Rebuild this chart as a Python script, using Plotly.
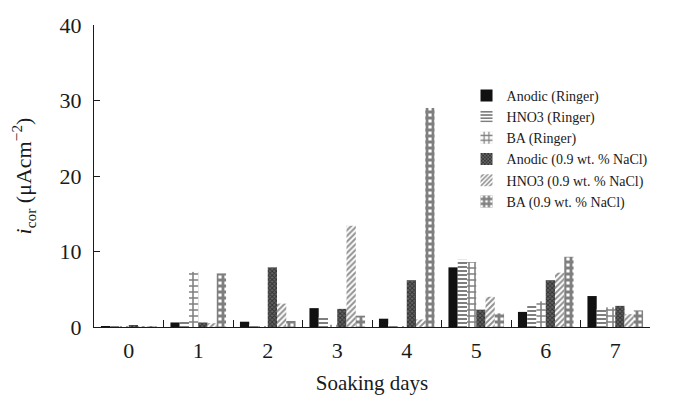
import plotly.graph_objects as go

days = ["0", "1", "2", "3", "4", "5", "6", "7"]
series_names = [
    "Anodic (Ringer)",
    "HNO3 (Ringer)",
    "BA (Ringer)",
    "Anodic (0.9 wt. % NaCl)",
    "HNO3 (0.9 wt. % NaCl)",
    "BA (0.9 wt. % NaCl)",
]
anodic_ringer = [0.1, 0.6, 0.7, 2.5, 1.1, 7.9, 2.0, 4.1]
hno3_ringer = [0.1, 0.8, 0.3, 1.3, 0.4, 8.9, 2.8, 2.4]
ba_ringer = [0.1, 7.3, 0.1, 0.3, 0.1, 8.6, 3.4, 2.6]
anodic_nacl = [0.2, 0.6, 7.9, 2.4, 6.2, 2.3, 6.2, 2.8]
hno3_nacl = [0.1, 0.5, 3.1, 13.4, 1.0, 4.0, 7.2, 1.7]
ba_nacl = [0.1, 7.1, 0.8, 1.5, 29.0, 1.8, 9.3, 2.2]
y_ticks = [0, 10, 20, 30, 40]

values = [anodic_ringer, hno3_ringer, ba_ringer, anodic_nacl, hno3_nacl, ba_nacl]
patterns = [
    dict(shape="", fgcolor="#111", bgcolor="#111"),
    dict(shape="-", fgcolor="#000", bgcolor="white", size=4, solidity=0.5),
    dict(shape="+", fgcolor="#000", bgcolor="white", size=6, solidity=0.45),
    dict(shape="x", fgcolor="#000", bgcolor="#666", size=3, solidity=0.55),
    dict(shape="/", fgcolor="#222", bgcolor="white", size=4, solidity=0.5),
    dict(shape="+", fgcolor="#000", bgcolor="white", size=6, solidity=0.72),
]
colors = ["#111", "white", "white", "#666", "white", "white"]

fig = go.Figure()
for name, vals, pat, col in zip(series_names, values, patterns, colors):
    fig.add_trace(go.Bar(
        x=days, y=vals, name=name,
        marker=dict(color=col, pattern=pat, line=dict(width=0)),
    ))

serif = "Liberation Serif"
fig.update_layout(
    width=668, height=393,
    margin=dict(l=86, r=26, t=17, b=74),
    plot_bgcolor="white", paper_bgcolor="white",
    barmode="group", bargap=0.2, bargroupgap=0,
    font=dict(family=serif, color="#1a1a1a"),
    showlegend=True,
    legend=dict(
        x=0.670, y=0.8185, xanchor="left", yanchor="top",
        font=dict(family=serif, size=14, color="#1a1a1a"),
        bgcolor="rgba(0,0,0,0)", itemwidth=30,
    ),
    xaxis=dict(
        type="category", tickson="boundaries", ticks="inside", ticklen=7,
        tickcolor="#1a1a1a", showline=True, linecolor="#1a1a1a", linewidth=1.2,
        tickfont=dict(size=22, family=serif), showgrid=False,
        ticklabelstandoff=3, automargin=False,
        title=dict(text="Soaking days", font=dict(size=21, family=serif), standoff=13),
    ),
    yaxis=dict(
        range=[0, 40], tickvals=y_ticks, ticks="inside", ticklen=6,
        tickcolor="#1a1a1a", showline=True, linecolor="#1a1a1a", linewidth=1.2,
        tickfont=dict(size=22, family=serif), showgrid=False, zeroline=False,
        ticklabelstandoff=7, automargin=False,
        title=dict(text="<i>i</i><sub>cor</sub> (μAcm<sup>−2</sup>)",
                   font=dict(size=22, family=serif), standoff=22),
    ),
)
fig.write_html("out.html")
